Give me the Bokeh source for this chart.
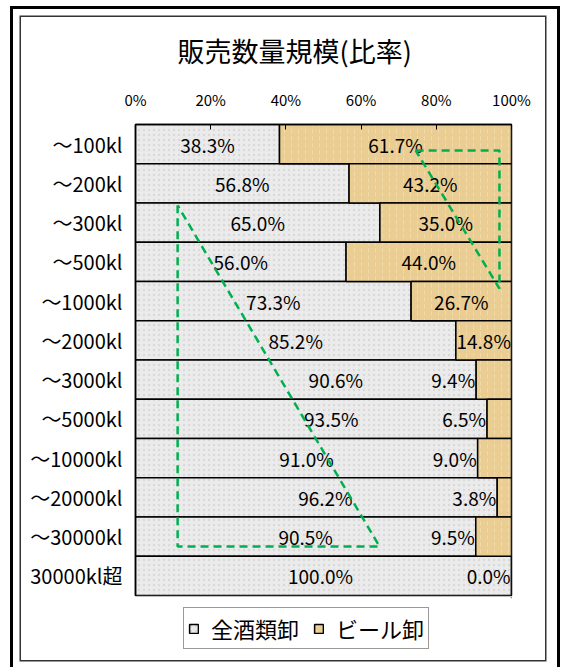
from bokeh.plotting import figure
from bokeh.layouts import column
from bokeh.models import (ColumnDataSource, Range1d, FixedTicker,
                          Legend, LegendItem, Title)
from bokeh.core.properties import value
from bokeh.embed import file_html
from bokeh.resources import INLINE

# ---- data ----
categories = ["～100kl", "～200kl", "～300kl", "～500kl", "～1000kl", "～2000kl",
              "～3000kl", "～5000kl", "～10000kl", "～20000kl", "～30000kl", "30000kl超"]
all_liquor = [38.3, 56.8, 65.0, 56.0, 73.3, 85.2, 90.6, 93.5, 91.0, 96.2, 90.5, 100.0]
beer = [61.7, 43.2, 35.0, 44.0, 26.7, 14.8, 9.4, 6.5, 9.0, 3.8, 9.5, 0.0]
series_names = ["全酒類卸", "ビール卸"]
x_ticks = [0, 20, 40, 60, 80, 100]
x_tick_labels = ["0%", "20%", "40%", "60%", "80%", "100%"]
title_text = "販売数量規模(比率)"

# green dashed annotation outlines, in (percent, row) units
shape1_x = [11.2, 11.2, 64.9, 11.2]
shape1_y = [2.06, 10.75, 10.75, 2.06]
shape2_x = [74.5, 96.8, 96.8, 74.5]
shape2_y = [0.66, 0.66, 4.18, 0.66]

# label nudges (px) for the 全酒類卸 labels
gray_label_shift = [0, 0, 0, 0, 0, 0, 30, 20, 0, 9, 0, -3]

FONT = "Noto Sans CJK JP"
GRAY = "#ebebeb"
TAN = "#e9cd92"
GRAY_STYLE = dict(fill_color=GRAY, line_color="black", line_width=1.5,
                  hatch_pattern="dot", hatch_color="#b8b8b8", hatch_scale=5,
                  hatch_alpha=0.35)
TAN_STYLE = dict(fill_color=TAN, line_color="black", line_width=1.5,
                 hatch_pattern="vertical_dash", hatch_color="#f6e2b8", hatch_scale=7,
                 hatch_alpha=0.6)

n = len(categories)
ys = [i + 0.5 for i in range(n)]
cum = [a + b for a, b in zip(all_liquor, beer)]

src = ColumnDataSource(dict(y=ys, a=all_liquor, b=beer, c=cum))

# main chart: canvas spans page x 21..545, y 17..597
p = figure(frame_width=376, frame_height=471, x_range=Range1d(0, 100),
           y_range=Range1d(n, 0),
           output_backend="svg", toolbar_location=None, x_axis_location="above",
           min_border_left=114, min_border_right=34, min_border_top=107,
           min_border_bottom=2)
p.background_fill_color = "white"
p.border_fill_color = "white"
p.outline_line_color = "black"
p.outline_line_width = 1.5
p.xgrid.visible = False
p.ygrid.visible = False

r1 = p.hbar(y="y", left=0, right="a", height=1, source=src, **GRAY_STYLE)
r2 = p.hbar(y="y", left="a", right="c", height=1, source=src, **TAN_STYLE)

# axes
xa = p.xaxis[0]
xa.ticker = FixedTicker(ticks=x_ticks)
xa.major_label_overrides = {t: l for t, l in zip(x_ticks, x_tick_labels)}
xa.major_tick_in = 5
xa.major_tick_out = 0
xa.minor_tick_in = 0
xa.minor_tick_out = 0
xa.axis_line_color = "black"
xa.axis_line_width = 1.5
xa.major_label_standoff = 15
xa.major_label_text_font = FONT
xa.major_label_text_font_size = "15px"
xa.major_label_text_color = "black"

ya = p.yaxis[0]
ya.ticker = FixedTicker(ticks=ys)
ya.major_label_overrides = {y: c for y, c in zip(ys, categories)}
ya.major_tick_in = 0
ya.major_tick_out = 0
ya.minor_tick_in = 0
ya.minor_tick_out = 0
ya.axis_line_color = "black"
ya.axis_line_width = 1.5
ya.major_label_standoff = 13
ya.major_label_text_font = FONT
ya.major_label_text_font_size = "20px"
ya.major_label_text_color = "black"

# value labels
lab_gray = ColumnDataSource(dict(
    x=[a / 2 for a in all_liquor], y=ys,
    t=["%.1f%%" % a for a in all_liquor], dx=gray_label_shift))
p.text(x="x", y="y", text="t", x_offset="dx", source=lab_gray, text_align="center",
       text_baseline="middle", text_font=value(FONT), text_font_size="19px",
       text_color="black")

big = [i for i in range(n) if beer[i] >= 10]
small = [i for i in range(n) if beer[i] < 10]
lab_tan_big = ColumnDataSource(dict(
    x=[all_liquor[i] + beer[i] / 2 for i in big], y=[ys[i] for i in big],
    t=["%.1f%%" % beer[i] for i in big]))
p.text(x="x", y="y", text="t", source=lab_tan_big, text_align="center",
       text_baseline="middle", text_font=value(FONT), text_font_size="19px",
       text_color="black")
lab_tan_small = ColumnDataSource(dict(
    x=[all_liquor[i] for i in small], y=[ys[i] for i in small],
    t=["%.1f%%" % beer[i] for i in small]))
p.text(x="x", y="y", text="t", source=lab_tan_small, text_align="right",
       text_baseline="middle", x_offset=-1, text_font=value(FONT),
       text_font_size="19px", text_color="black")

# green dashed outlines
for sx, sy in ((shape1_x, shape1_y), (shape2_x, shape2_y)):
    p.line(sx, sy, line_color="#00b050", line_width=2.5, line_dash="8 5")

# title
p.title = Title(text=title_text, align="left", offset=42, text_font=FONT,
                text_font_size="27px", text_font_style="normal", text_color="black",
                vertical_align="top", standoff=27)

# legend strip (page y 597..660); its frame is aligned with the chart frame
q = figure(width=524, height=63, x_range=Range1d(0, 1), y_range=Range1d(0, 1),
           output_backend="svg", toolbar_location=None,
           min_border_left=0, min_border_right=0, min_border_top=0,
           min_border_bottom=0)
q.axis.visible = False
q.grid.visible = False
q.outline_line_color = None
q.background_fill_color = "white"
q.border_fill_color = "white"
# swatch-only renderers: their single bar lies outside the strip's visible range
swatch = ColumnDataSource(dict(y=[5], l=[5], r=[6]))
d1 = q.hbar(y="y", left="l", right="r", height=1, source=swatch, **GRAY_STYLE)
d2 = q.hbar(y="y", left="l", right="r", height=1, source=swatch, **TAN_STYLE)

legend = Legend(items=[LegendItem(label=series_names[0], renderers=[d1]),
                       LegendItem(label=series_names[1], renderers=[d2])],
                orientation="horizontal", location=(48, 11))
legend.label_text_font = FONT
legend.label_text_font_size = "22px"
legend.label_text_color = "black"
legend.glyph_width = 11
legend.glyph_height = 11
legend.label_standoff = 12
legend.spacing = 14
legend.padding = 4
legend.margin = 0
legend.border_line_color = "#333333"
legend.border_line_width = 1
legend.background_fill_color = "white"
legend.background_fill_alpha = 1.0
q.add_layout(legend, "center")

page = column(p, q, spacing=0, margin=(17, 0, 0, 21),
              styles={"box-shadow": "0 0 0 1.5px #333333, 2px 2px 0 10px #ffffff, "
                                    "2px 2px 0 13px #000000"})

open("out.html", "w").write(file_html(page, INLINE))
